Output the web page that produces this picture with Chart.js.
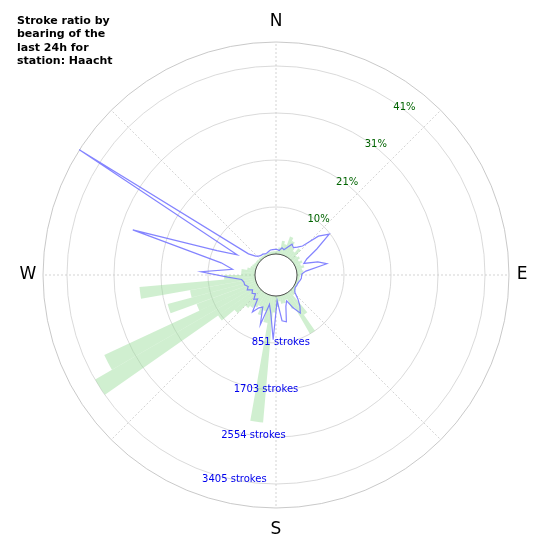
<!DOCTYPE html>
<html><head><meta charset="utf-8">
<script src="https://cdn.jsdelivr.net/npm/chart.js@4"></script>
<style>html,body{margin:0;padding:0;background:#fff}#w{width:550px;height:550px;position:relative}</style>
</head><body><div id="w"><canvas id="c"></canvas></div>
<script>
const bearings = Array.from({length:72},(_,i)=>i*5);
const strokes = [60,120,250,200,360,300,200,150,250,120,150,100,150,100,150,100,120,100,
 60,50,50,40,40,40,40,60,80,100,500,851,300,100,150,150,100,200,
 300,2300,500,300,400,250,300,350,400,600,900,3400,3050,1150,1650,1200,2100,560,
 250,250,150,100,80,60,50,50,40,40,40,40,40,40,50,50,50,50];
const ratioPct = [1.0,0.8,1.5,1.2,2.0,3.0,2.5,3.1,4.0,8.0,10.1,6.0,3.0,2.0,5.0,6.8,2.0,1.1,
 1.0,1.0,0.8,0.6,0.5,0.5,0.4,0.6,1.0,2.5,4.0,5.3,3.5,1.5,2.6,5.9,5.5,1.0,
 9.6,4.0,2.0,6.8,3.0,3.5,5.0,2.0,2.6,1.5,2.0,1.5,2.5,2.0,2.6,2.6,3.0,6.0,
 11.8,5.0,7.7,28.3,9.4,5.0,46.5,3.0,1.5,1.0,0.8,0.8,0.6,0.6,0.8,1.0,1.0,1.0];
const pctTicks = ['10%','21%','31%','41%'];
const strokeTicks = ['851 strokes','1703 strokes','2554 strokes','3405 strokes'];
const titleLines = ['Stroke ratio by','bearing of the','last 24h for','station: Haacht'];
const STROKES_PER_RING = 851, PCT_PER_RING = 10.3;

const overlay = {
  id:'overlay',
  beforeDatasetsDraw(chart){
    const s = chart.scales.r, ctx = chart.ctx, cx = s.xCenter, cy = s.yCenter;
    const R = s.getDistanceFromCenterForValue(s.max), r0 = s.getDistanceFromCenterForValue(0);
    ctx.save();
    ctx.strokeStyle='#d0d0d0'; ctx.lineWidth=0.8;
    for(let v=1; v<=4; v++){ ctx.beginPath(); ctx.arc(cx,cy,s.getDistanceFromCenterForValue(v),0,2*Math.PI); ctx.stroke(); }
    ctx.strokeStyle='#bbb'; ctx.beginPath(); ctx.arc(cx,cy,R,0,2*Math.PI); ctx.stroke();
    ctx.setLineDash([2,2]); ctx.strokeStyle='#c8c8c8';
    for(let a=0;a<360;a+=45){ const t=a*Math.PI/180;
      ctx.beginPath(); ctx.moveTo(cx+r0*Math.sin(t),cy-r0*Math.cos(t)); ctx.lineTo(cx+R*Math.sin(t),cy-R*Math.cos(t)); ctx.stroke(); }
    ctx.restore();
  },
  afterDatasetsDraw(chart){
    const s = chart.scales.r, ctx = chart.ctx, cx = s.xCenter, cy = s.yCenter;
    const R = s.getDistanceFromCenterForValue(s.max), r0 = s.getDistanceFromCenterForValue(0);
    ctx.save();
    // blue ratio line
    ctx.strokeStyle='rgba(110,110,255,0.85)'; ctx.lineWidth=1.2; ctx.beginPath();
    ratioPct.forEach((p,i)=>{ const t=(bearings[i]+2.5)*Math.PI/180, d=s.getDistanceFromCenterForValue(p/PCT_PER_RING);
      const x=cx+d*Math.sin(t), y=cy-d*Math.cos(t); i?ctx.lineTo(x,y):ctx.moveTo(x,y); });
    ctx.closePath(); ctx.stroke();
    // hole
    ctx.fillStyle='#fff'; ctx.strokeStyle='#222'; ctx.lineWidth=0.8;
    ctx.beginPath(); ctx.arc(cx,cy,r0,0,2*Math.PI); ctx.fill(); ctx.stroke();
    // compass labels
    ctx.fillStyle='#000'; ctx.font='17px "DejaVu Sans"'; ctx.textAlign='center'; ctx.textBaseline='middle';
    ctx.fillText('N',cx,cy-R-20); ctx.fillText('S',cx,cy+R+22);
    ctx.fillText('E',cx+R+13,cy); ctx.fillText('W',cx-R-15,cy);
    // pct labels
    ctx.font='10px "DejaVu Sans"'; ctx.fillStyle='#006400';
    pctTicks.forEach((l,i)=>{ const d=s.getDistanceFromCenterForValue(i+1)+2, t=37.5*Math.PI/180;
      ctx.fillText(l,cx+d*Math.sin(t),cy-d*Math.cos(t)); });
    ctx.fillStyle='#0000ee';
    const sa=[176,185,188,191.5];
    strokeTicks.forEach((l,i)=>{ const d=s.getDistanceFromCenterForValue(i+1), t=sa[i]*Math.PI/180;
      ctx.fillText(l,cx+d*Math.sin(t),cy-d*Math.cos(t)); });
    // title
    ctx.fillStyle='#000'; ctx.font='bold 11px "DejaVu Sans"'; ctx.textAlign='left';
    titleLines.forEach((l,i)=>ctx.fillText(l,17,21+i*13.5));
    ctx.restore();
  }
};

new Chart(document.getElementById('c'),{
  type:'polarArea',
  data:{labels:bearings.map(String),datasets:[{data:strokes.map(v=>v/STROKES_PER_RING),
    backgroundColor:'rgba(150,220,150,0.45)',borderWidth:0}]},
  options:{responsive:true,maintainAspectRatio:false,animation:false,
    layout:{padding:{top:42,bottom:42,left:40,right:38}},
    plugins:{legend:{display:false},tooltip:{enabled:false}},
    scales:{r:{min:-0.447,max:4.51,grid:{display:false},angleLines:{display:false},
      ticks:{display:false},pointLabels:{display:false}}}},
  plugins:[overlay]
});
</script></body></html>
